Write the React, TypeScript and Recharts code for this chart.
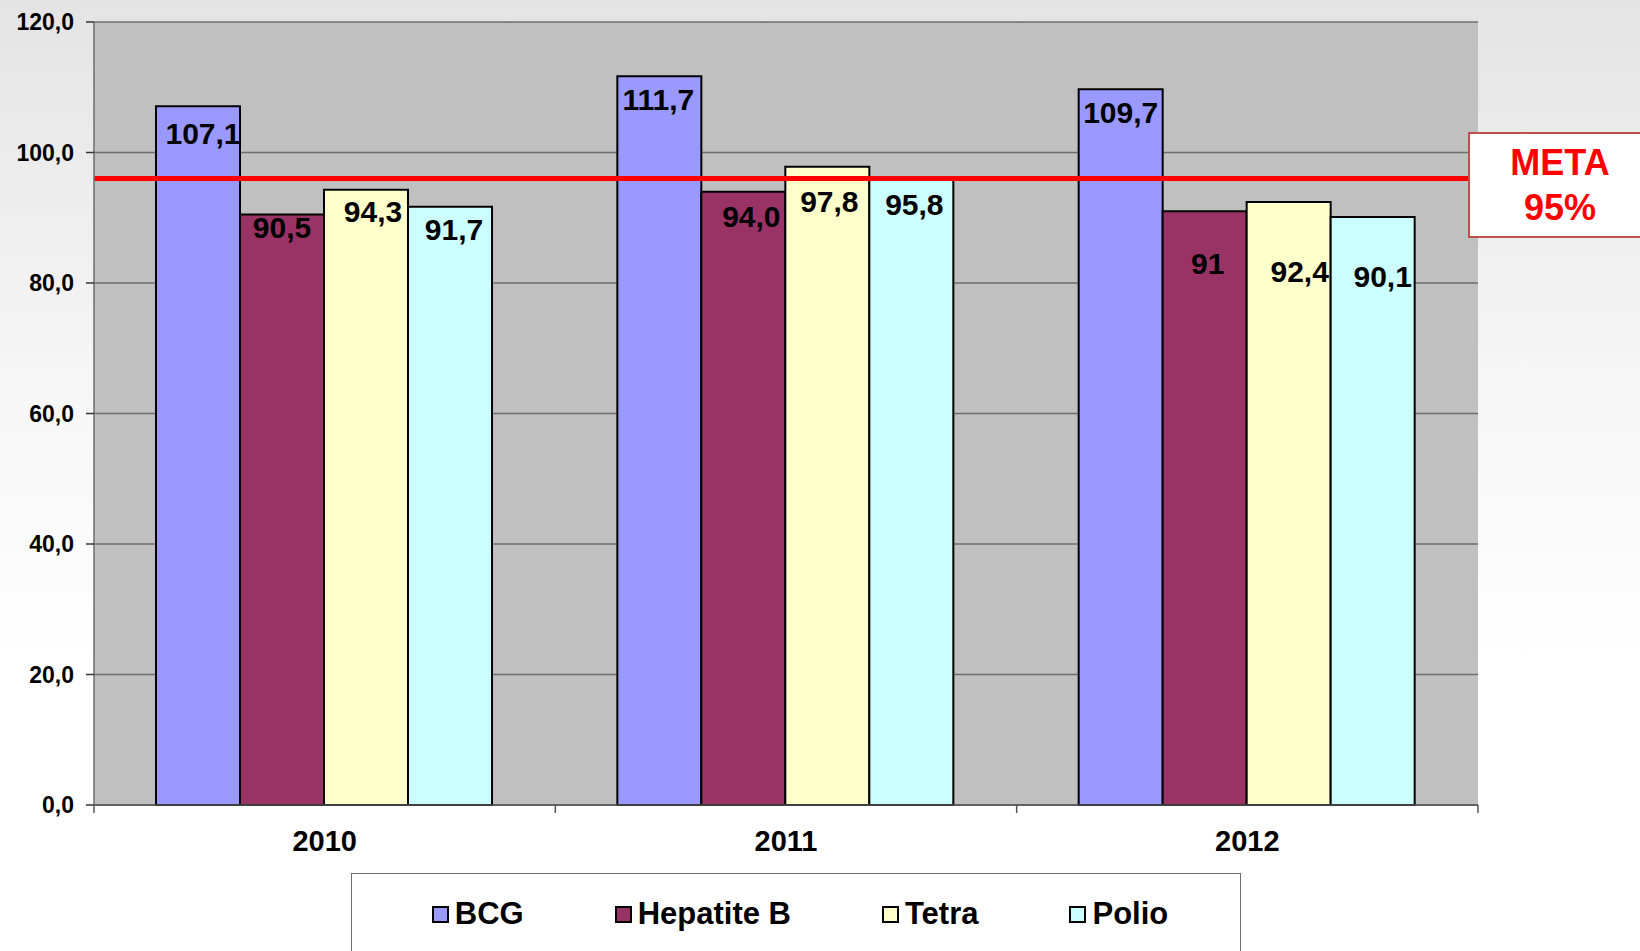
import React from "react";
import { BarChart, Bar, XAxis, YAxis, CartesianGrid, ReferenceLine, LabelList } from "recharts";

const years = ["2010", "2011", "2012"];
const bcg = [107.1, 111.7, 109.7];
const hepatiteB = [90.5, 94.0, 91];
const tetra = [94.3, 97.8, 92.4];
const polio = [91.7, 95.8, 90.1];
// the 2012 Hepatite B label is shown without decimals
const hepatiteBLabels = ["90,5", "94,0", "91"];
const yTicks = [0, 20, 40, 60, 80, 100, 120];
const metaLine = 96; // where the red line sits in the picture
const metaText = ["META", "95%"];

const series = [
  { key: "bcg", name: "BCG", color: "#9999ff" },
  { key: "hepatiteB", name: "Hepatite B", color: "#993366", labels: hepatiteBLabels },
  { key: "tetra", name: "Tetra", color: "#ffffcc" },
  { key: "polio", name: "Polio", color: "#ccffff" },
];

const data = years.map((year, i) => ({
  year,
  bcg: bcg[i],
  hepatiteB: hepatiteB[i],
  tetra: tetra[i],
  polio: polio[i],
}));

// hand-moved data labels in the original: [dx, dy from bar top] per year
const labelNudge: Record<string, number[][]> = {
  bcg: [[5, 27], [-1, 23], [0, 23]],
  hepatiteB: [[0, 13], [8, 25], [3, 52]],
  tetra: [[7, 22], [2, 35], [11, 69]],
  polio: [[4, 23], [3, 25], [10, 59]],
};

const FONT = "'Liberation Sans', Arial, sans-serif";
const comma = (v: number) => v.toFixed(1).replace(".", ",");

const YearTick = (props: any) => {
  const { x, y, payload, index } = props;
  const half = payload?.offset || 230.7;
  return (
    <g>
      <line x1={x - half} x2={x - half} y1={y} y2={y + 8} stroke="#555" strokeWidth={1.5} />
      {index === years.length - 1 && (
        <line x1={x + half} x2={x + half} y1={y} y2={y + 8} stroke="#555" strokeWidth={1.5} />
      )}
      <text x={x} y={y + 36} textAnchor="middle" dominantBaseline="central" fontSize={29} fontWeight={700} fontFamily={FONT} fill="#000">
        {payload.value}
      </text>
    </g>
  );
};

const makeLabel = (key: string, labels?: string[]) => (props: any) => {
  const { x, y, width, value, index } = props;
  const text = labels ? labels[index] : comma(Number(value));
  const [dx, dy] = labelNudge[key]?.[index] ?? [0, 24];
  return (
    <text x={x + width / 2 + dx} y={y + dy} textAnchor="middle" dominantBaseline="central" fontSize={30} fontWeight={700} fontFamily={FONT} fill="#000">
      {text}
    </text>
  );
};

export default function App() {
  return (
    <div
      style={{
        position: "absolute",
        left: 0,
        top: 0,
        width: 1640,
        height: 951,
        overflow: "hidden",
        background: "linear-gradient(#e4e4e4 0%, #f6f6f6 40%, #ffffff 70%)",
        fontFamily: FONT,
      }}
    >
      <BarChart
        width={1640}
        height={951}
        data={data}
        margin={{ top: 22, right: 162, bottom: 0, left: 0 }}
        barGap={0}
        barCategoryGap={62}
      >
        <CartesianGrid vertical={false} fill="#c0c0c0" stroke="#6e6e6e" strokeWidth={1.5} />
        <XAxis
          dataKey="year"
          height={146}
          interval={0}
          tickLine={false}
          tickSize={0}
          tickMargin={0}
          axisLine={{ stroke: "#555", strokeWidth: 1.5 }}
          tick={<YearTick />}
        />
        <YAxis
          domain={[0, 120]}
          ticks={yTicks}
          width={94}
          tickSize={8}
          tickMargin={12}
          axisLine={{ stroke: "#6e6e6e", strokeWidth: 1.5 }}
          tickLine={{ stroke: "#333", strokeWidth: 1.5 }}
          tickFormatter={(v: number) => comma(v)}
          tick={{ fontSize: 23, fontWeight: 700, fill: "#000", fontFamily: FONT }}
        />
        <YAxis
          yAxisId="right"
          orientation="right"
          width={0}
          tick={false}
          tickLine={false}
          axisLine={{ stroke: "#8a8a8a", strokeWidth: 2 }}
        />
        {series.map((s) => (
          <Bar key={s.key} dataKey={s.key} name={s.name} fill={s.color} stroke="#000" strokeWidth={2} isAnimationActive={false}>
            <LabelList dataKey={s.key} content={makeLabel(s.key, s.labels)} />
          </Bar>
        ))}
        <ReferenceLine y={metaLine} stroke="#ff0000" strokeWidth={5} />
      </BarChart>

      <div
        style={{
          position: "absolute",
          left: 1468,
          top: 132,
          width: 184,
          height: 106,
          boxSizing: "border-box",
          border: "2px solid #c0504d",
          background: "#fff",
          display: "flex",
          flexDirection: "column",
          alignItems: "center",
          justifyContent: "center",
          color: "#ff0000",
          fontWeight: 700,
          fontSize: 36,
          lineHeight: "45px",
        }}
      >
        {metaText.map((t) => (
          <div key={t}>{t}</div>
        ))}
      </div>

      <div
        style={{
          position: "absolute",
          left: 351,
          top: 873,
          width: 890,
          height: 110,
          boxSizing: "border-box",
          border: "1.5px solid #6e6e6e",
          background: "#fff",
        }}
      >
        <div
          style={{
            position: "absolute",
            top: 21,
            left: 8,
            right: 0,
            display: "flex",
            justifyContent: "center",
            gap: 91,
            fontSize: 31,
            fontWeight: 700,
            lineHeight: "38px",
          }}
        >
          {series.map((s) => (
            <div key={s.key} style={{ display: "flex", alignItems: "center", gap: 6 }}>
              <span
                style={{
                  width: 17,
                  height: 17,
                  boxSizing: "border-box",
                  border: "2px solid #000",
                  background: s.color,
                  display: "inline-block",
                }}
              />
              <span>{s.name}</span>
            </div>
          ))}
        </div>
      </div>
    </div>
  );
}
